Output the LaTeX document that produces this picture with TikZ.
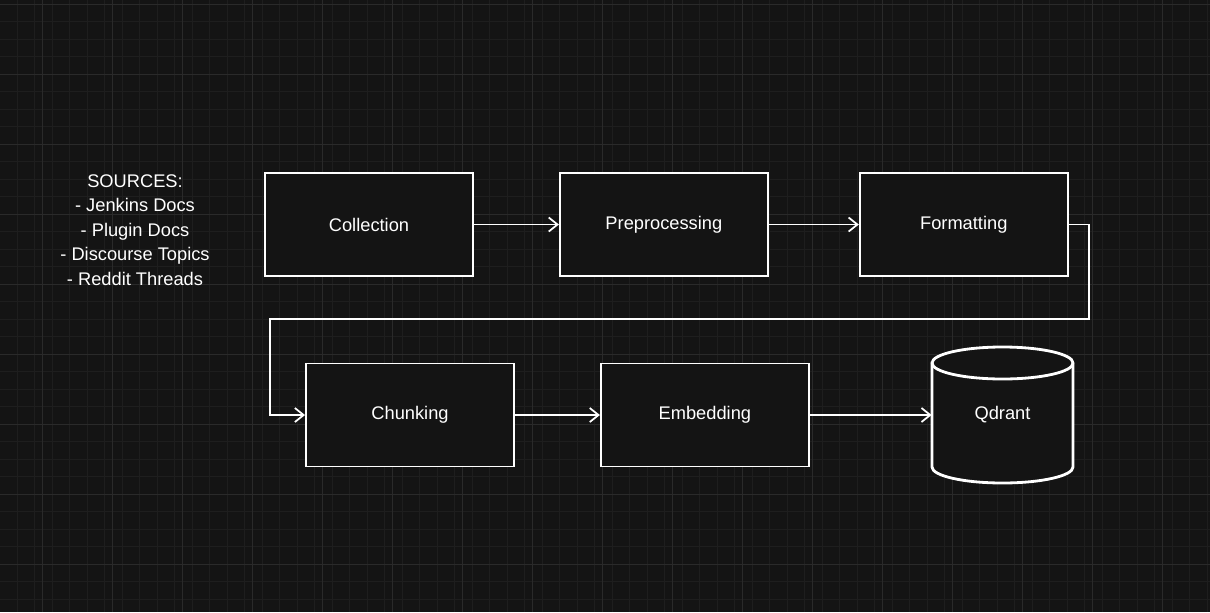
\documentclass[tikz,border=0pt]{standalone}
\usepackage{fontspec}
\setmainfont{Liberation Sans}
\usetikzlibrary{positioning,arrows.meta}

\definecolor{canvas}{HTML}{141414}
\definecolor{gridminor}{HTML}{1E1E1E}
\definecolor{gridmajor}{HTML}{2A2A2A}

\begin{document}
\begin{tikzpicture}[x=0.02cm, y=-0.02cm, font=\fontsize{10.4}{14}\selectfont, text=white]

% Background and grid
\tikzstyle{gridfine} = [draw=gridminor, line width=0.4pt]
\tikzstyle{gridbold} = [draw=gridmajor, line width=0.5pt]
\fill[canvas] (0,0) rectangle (1210,612);
\useasboundingbox (0,0) rectangle (1210,612);
\foreach \i in {0,...,70} {
  \draw[gridfine] ({\i*17.5-0.5},0) -- ({\i*17.5-0.5},612);
}
\foreach \j in {0,...,35} {
  \draw[gridfine] (0,{\j*17.5+4}) -- (1210,{\j*17.5+4});
}
\foreach \i in {0,...,17} {
  \draw[gridbold] ({\i*70+ 42},0) -- ({\i*70+42},612);
}
\foreach \j in {0,...,9} {
  \draw[gridbold] (0,{\j*70+4}) -- (1210,{\j*70+4});
}

% Styles for stages and connectors
\tikzstyle{stage} = [draw=white, fill=canvas, line width=1.1pt, minimum width=4.16cm, minimum height=2.06cm]
\tikzstyle{flow} = [draw=white, line width=1pt, -{Straight Barb[length=5pt, width=8pt]}]

\node[align=center] (sources) at (135,230) {SOURCES:\\ - Jenkins Docs\\ - Plugin Docs\\ - Discourse Topics\\ - Reddit Threads};

\node[stage] (collection) at (369,224.5) {Collection};
\node[stage, right=1.7cm of collection] (preproc) {Preprocessing};
\node[stage, right=1.8cm of preproc] (formatting) {Formatting};

\node[stage] (chunking) at (410,415) {Chunking};
\node[stage, right=1.7cm of chunking] (embedding) {Embedding};

% Storage cylinder
\node[minimum width=2.82cm, minimum height=2.72cm] (qdrant) at (1002.5,415) {};
\draw[white, fill=canvas, line width=1.6pt]
  (932,363) -- (932,467) arc[start angle=180, end angle=0, x radius=70.5, y radius=16]
  -- (1073,363) arc[start angle=0, end angle=-180, x radius=70.5, y radius=16] -- cycle;
\draw[white, line width=1.6pt] (932,363) arc[start angle=180, end angle=0, x radius=70.5, y radius=16];
\node at (qdrant) {Qdrant};

\draw[flow] (collection) -- (preproc);
\draw[flow] (preproc) -- (formatting);
\draw[flow] (formatting.east) -- ++(20,0) |- (270,319) |- (chunking.west);
\draw[flow] (chunking) -- (embedding);
\draw[flow] (embedding) -- (qdrant.west);

\end{tikzpicture}
\end{document}
